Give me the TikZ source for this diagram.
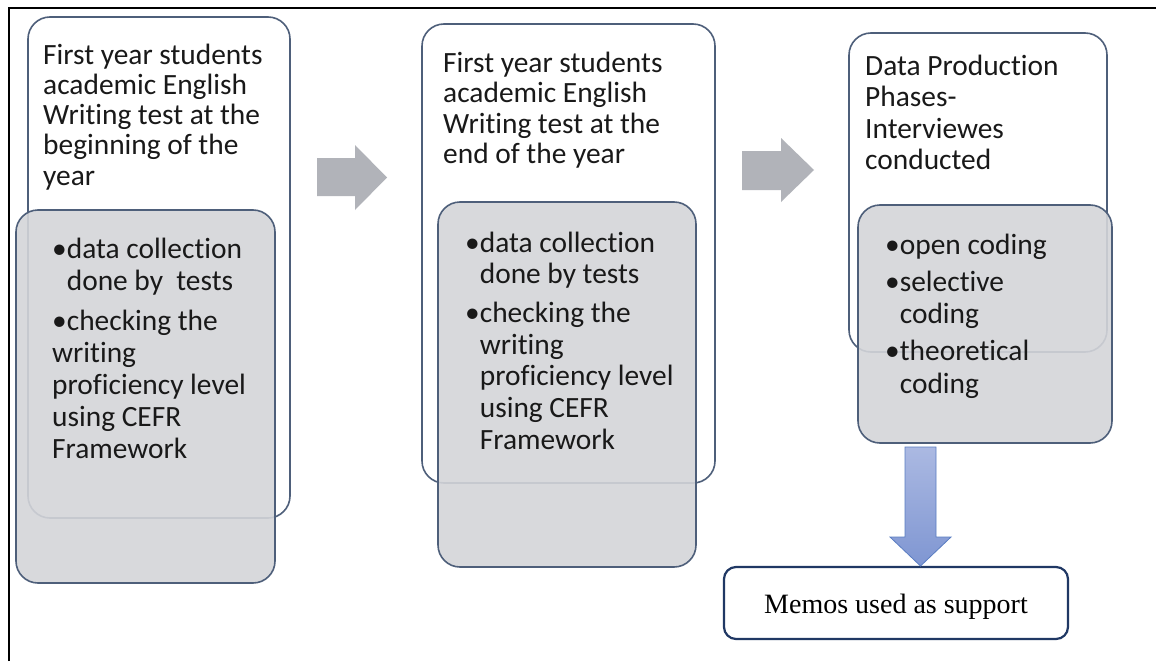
\documentclass[tikz,border=0pt]{standalone}
\usepackage{fontspec}
\setmainfont{Carlito}[Ligatures={NoCommon}]
\newfontfamily\memofont{Liberation Serif}
\definecolor{boxline}{RGB}{78,95,122}
\definecolor{boxgray}{RGB}{212,213,217}
\definecolor{arrowgray}{RGB}{177,179,185}
\definecolor{memonavy}{RGB}{32,56,100}
\definecolor{bluetop}{RGB}{171,185,226}
\definecolor{bluebot}{RGB}{127,150,210}
\definecolor{blueline}{RGB}{90,125,194}
\definecolor{textblack}{RGB}{25,25,25}
\newcommand\txtblock[2]{{\fontsize{29.4}{#1}\selectfont\begin{tabular}[t]{@{}l@{}}#2\end{tabular}}}
\newcommand\hb{\hphantom{\textbullet}}
\begin{document}
\begin{tikzpicture}[x=1pt,y=-1pt,
  wbox/.style={draw=boxline, line width=1.6pt, fill=white, rounded corners=22pt, inner sep=0pt},
  gbox/.style={draw=boxline, line width=1.6pt, fill=boxgray, fill opacity=0.9, rounded corners=22pt, inner sep=0pt},
  txt/.style={anchor=base west, inner sep=0pt, text=textblack},
  garrow/.style={fill=arrowgray, draw=none},
  barrow/.style={top color=bluetop, bottom color=bluebot, draw=blueline, line width=0.8pt},
  memo/.style={draw=memonavy, line width=2.2pt, rounded corners=12pt, fill=white,
    minimum width=344pt, minimum height=72pt, inner sep=0pt,
    text height=24pt, text depth=4pt, text=black,
    font=\memofont\fontsize{28}{32}\selectfont}]
\useasboundingbox (0,0) rectangle (1156,661);
\fill[white] (0,0) rectangle (1156,661);
% frame
\draw[line width=2.5pt] (9,661) -- (9,8) -- (1156,8);

% box 1
\node[wbox, minimum width=262pt, minimum height=501pt] (w1) at (159,267.5) {};
\node[gbox, minimum width=259pt, minimum height=373pt] (g1) at (145.5,396.5) {};
\node[txt] (t1) at (43,64) {\txtblock{30.3}{First year students\\academic English\\Writing test at the\\beginning of the\\year}};
\node[txt] (b1) at (52,258) {\txtblock{32}{\textbullet data collection\\\hb done by\ \ tests\\[8pt]\textbullet checking the\\writing\\proficiency level\\using CEFR\\Framework}};

% box 2
\node[wbox, minimum width=293pt, minimum height=459pt] (w2) at (568.5,253.5) {};
\node[gbox, minimum width=258pt, minimum height=365pt] (g2) at (567,384.5) {};
\node[txt] (t2) at (443,73) {\txtblock{30}{First year students\\academic English\\Writing test at the\\end of the year}};
\node[txt] (b2) at (465,252) {\txtblock{31.7}{\textbullet data collection\\\hb done by tests\\[7pt]\textbullet checking the\\\hb writing\\\hb proficiency level\\\hb using CEFR\\\hb Framework}};

% box 3
\node[wbox, minimum width=258pt, minimum height=319pt] (w3) at (978,192.5) {};
\node[gbox, minimum width=254pt, minimum height=238pt] (g3) at (985,324) {};
\node[txt] (t3) at (865,75) {\txtblock{31.5}{Data Production\\Phases-\\Interviewes\\conducted}};
\node[txt] (b3) at (885,254) {\txtblock{32.5}{\textbullet open coding\\[4.5pt]\textbullet selective\\\hb coding\\[4.5pt]\textbullet theoretical\\\hb coding}};

% gray block arrows
\fill[garrow] (317,158) -- (355,158) -- (355,145) -- (387,177.5) -- (355,210) -- (355,196) -- (317,196) -- cycle;
\fill[garrow] (742,151) -- (781,151) -- (781,138) -- (814,170) -- (781,202) -- (781,190) -- (742,190) -- cycle;

% memo box and blue arrow
\node[memo] (m) at (896,603) {Memos used as support};
\draw[barrow] (905,447) -- (936,447) -- (936,537) -- (951,537) -- (920.5,566) -- (890,537) -- (905,537) -- cycle;
\end{tikzpicture}
\end{document}
